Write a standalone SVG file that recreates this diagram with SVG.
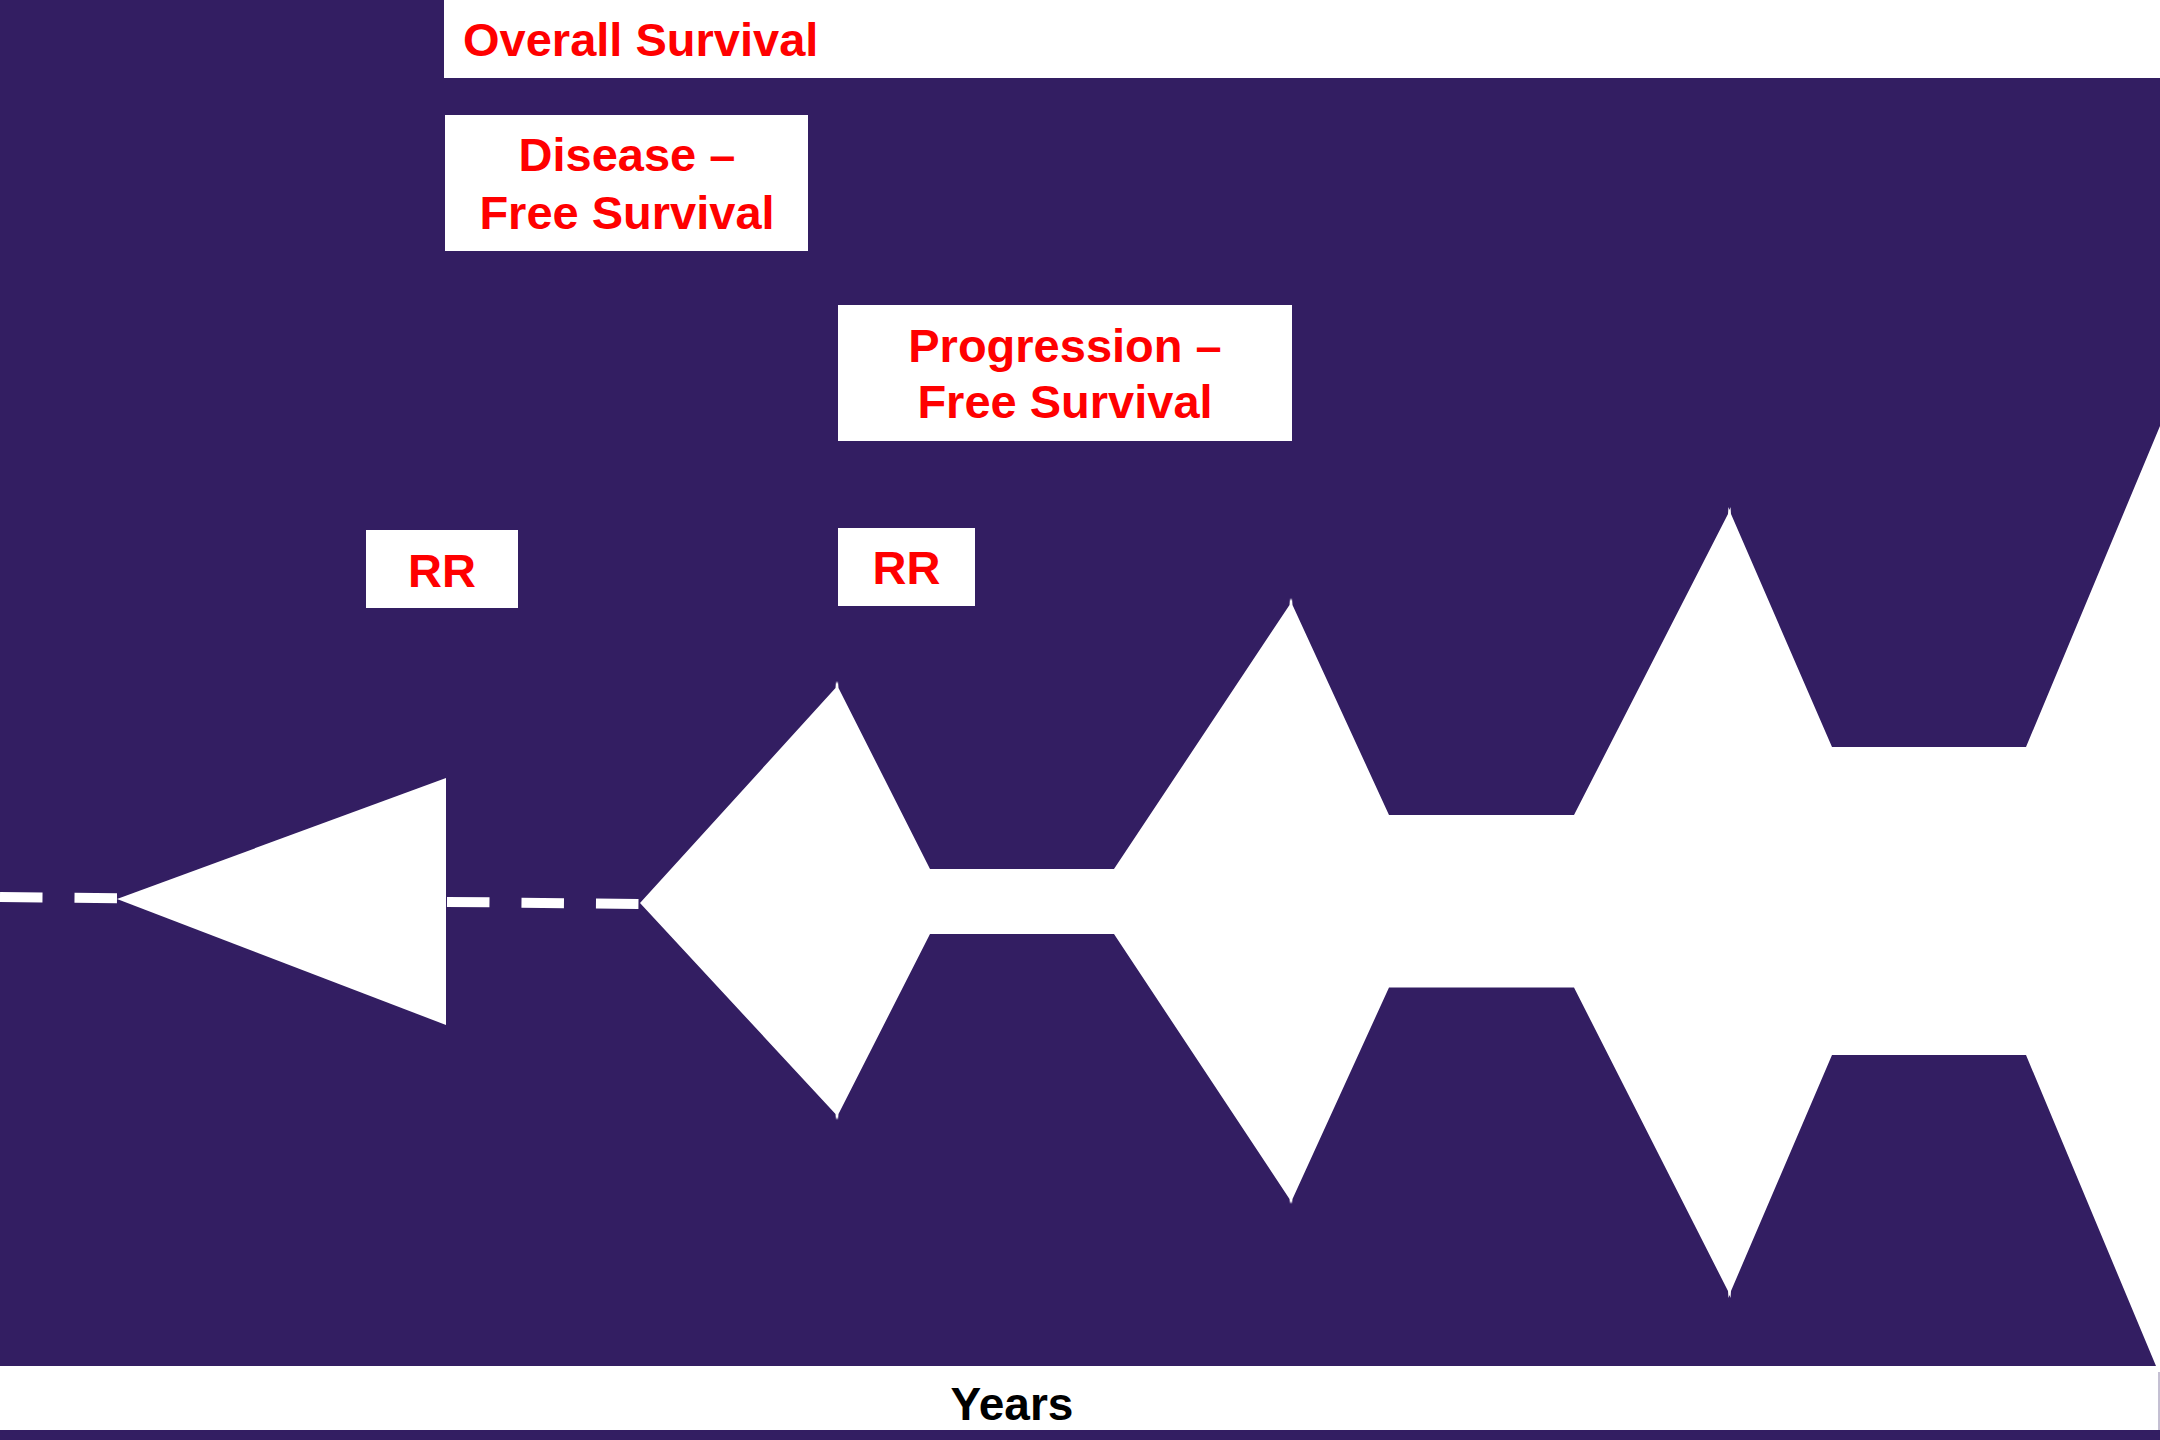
<svg xmlns="http://www.w3.org/2000/svg" width="2160" height="1440" viewBox="0 0 2160 1440">
<style>
.bg{fill:#331E62}
.w{fill:#FFFFFF}
.lbl{font-family:"Liberation Sans",Arial,sans-serif;font-weight:bold;font-size:47px;fill:#FF0000}
.axis{font-family:"Liberation Sans",Arial,sans-serif;font-weight:bold;font-size:46px;fill:#000000}
.dash{stroke:#FFFFFF;stroke-width:10;stroke-dasharray:42.5 32;fill:none}
</style>
<rect class="bg" x="0" y="0" width="2160" height="1440"/>
<g id="connectors">
<line class="dash" x1="0" y1="897" x2="640" y2="904"/>
</g>
<g id="overall-survival">
<rect class="w" x="444" y="0" width="1716" height="78"/>
<text class="lbl" x="463" y="56">Overall Survival</text>
</g>
<g id="disease-free-survival">
<rect class="w" x="445" y="115" width="363" height="136"/>
<text class="lbl" x="627" y="171" text-anchor="middle">Disease –</text>
<text class="lbl" x="627" y="229" text-anchor="middle">Free Survival</text>
</g>
<g id="progression-free-survival">
<rect class="w" x="838" y="305" width="454" height="136"/>
<text class="lbl" x="1065" y="362" text-anchor="middle">Progression –</text>
<text class="lbl" x="1065" y="418" text-anchor="middle">Free Survival</text>
</g>
<g id="rr-1">
<rect class="w" x="366" y="530" width="152" height="78"/>
<text class="lbl" x="442" y="587" text-anchor="middle">RR</text>
</g>
<g id="rr-2">
<rect class="w" x="838" y="528" width="137" height="78"/>
<text class="lbl" x="906.5" y="584" text-anchor="middle">RR</text>
</g>
<g id="triangle">
<polygon class="w" points="117,899 446,778 446,1025"/>
</g>
<g id="funnel">
<polygon class="w" points="640,903 835.5,688 836,681 837,684 838,681 838.5,688 930,869 1114,869 1289.5,605 1290,598 1291,601 1292,598 1292.5,605 1389,815 1574,815 1728,514 1728.5,507 1729.5,510 1730.5,507 1731,514 1832,747 2026,747 2160,426 2160,1366 2156,1366 2026,1055 1832,1055 1731,1291 1730.5,1298 1729.5,1295 1728.5,1298 1728,1291 1574,987.5 1389,987.5 1292.5,1199 1292,1204 1291,1201 1290,1204 1289.5,1199 1114,934 930,934 838.5,1114 838,1120 837,1117 836,1120 835.5,1114"/>
</g>
<g id="years">
<rect class="w" x="0" y="1366" width="2160" height="64"/>
<line x1="2159" y1="1372" x2="2159" y2="1430" stroke="#8A80A6" stroke-width="1"/>
<text class="axis" x="1012" y="1420" text-anchor="middle">Years</text>
</g>
</svg>
